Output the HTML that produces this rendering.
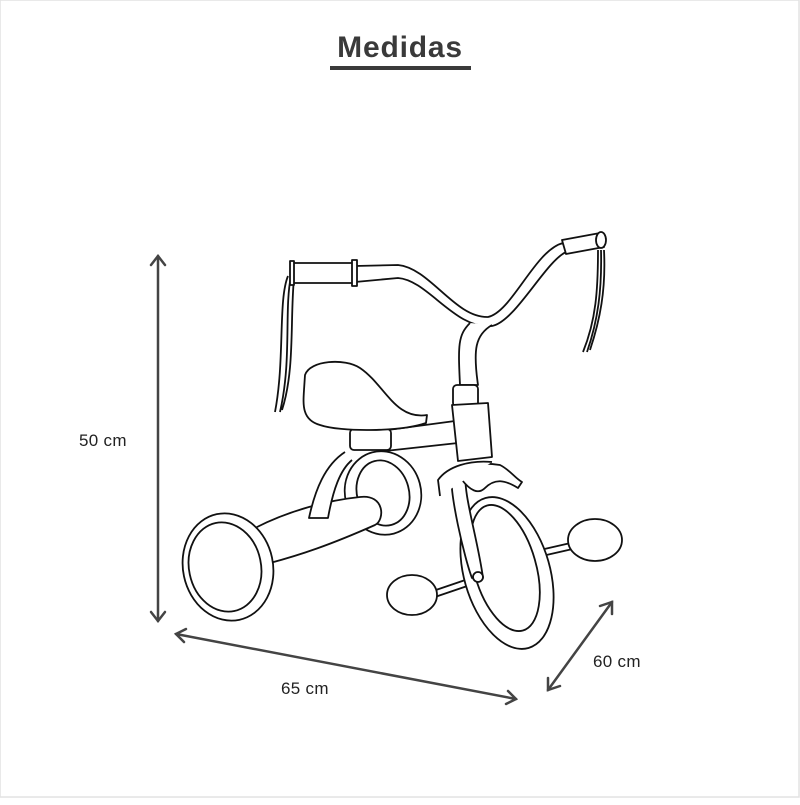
<!DOCTYPE html>
<html><head><meta charset="utf-8"><style>
html,body{margin:0;padding:0;background:#fff}
body{width:800px;height:800px;overflow:hidden;position:relative}
</style></head><body>
<svg width="800" height="800" viewBox="0 0 800 800" xmlns="http://www.w3.org/2000/svg">
<rect x="0" y="0" width="799" height="797" fill="#fff" stroke="#e2e2e2" stroke-width="1.5"/>
<text x="400" y="57" text-anchor="middle" font-family="Liberation Sans, sans-serif" font-weight="bold" font-size="30" letter-spacing="0.8" fill="#3a3a3a">Medidas</text>
<rect x="330" y="66" width="141" height="4" fill="#3a3a3a"/>
<g fill="none" stroke="#444" stroke-width="2.5" stroke-linecap="round">
<line x1="158" y1="256" x2="158" y2="621"/>
<polyline points="151,265 158,256 165,265"/>
<polyline points="151,612 158,621 165,612"/>
<line x1="176" y1="634" x2="516" y2="699"/>
<polyline points="186,629 176,634 184,642"/>
<polyline points="506,704 516,699 508,691"/>
<line x1="612" y1="602" x2="548" y2="690"/>
<polyline points="600,606 612,602 612,614"/>
<polyline points="548,678 548,690 560,686"/>
</g>
<g font-family="Liberation Sans, sans-serif" font-size="17" fill="#222" letter-spacing="0.3">
<text x="79" y="446">50 cm</text>
<text x="281" y="694">65 cm</text>
<text x="593" y="667">60 cm</text>
</g>
<g fill="#fff" stroke="#111" stroke-width="1.8" stroke-linejoin="round">
<path d="M288,276 C278,300 285,360 275,412 M291,276 C284,310 292,360 280,412 M294,278 C290,320 295,370 282,410" fill="none"/>
<path d="M598,250 C598,290 596,320 583,352 M601,250 C602,290 598,320 587,352 M604,250 C606,290 600,320 590,350" fill="none"/>
<path d="M355,266 L398,265 C430,268 455,318 488,317 C512,312 535,250 563,243 L566,252 C545,262 515,322 492,326 C455,330 428,280 398,278 L355,282 Z"/>
<path d="M470,323 C458,335 458,345 460,385 L478,385 C473,350 475,335 492,325"/>
<rect x="292" y="263" width="62" height="20"/>
<rect x="290" y="261" width="4" height="24"/>
<rect x="352" y="260" width="5" height="26"/>
<path d="M562,240 L600,233 L604,247 L566,254 Z"/>
<ellipse cx="601" cy="240" rx="5" ry="8"/>
<path d="M430,592 L480,575 L482,581 L432,598 Z"/>
<path d="M540,550 L575,542 L577,548 L542,556 Z"/>
<ellipse cx="412" cy="595" rx="25" ry="20"/>
<ellipse cx="595" cy="540" rx="27" ry="21"/>
<ellipse cx="507" cy="573" rx="43" ry="78" transform="rotate(-16 507 573)"/>
<ellipse cx="505" cy="568" rx="31" ry="65" transform="rotate(-16 505 568)"/>
<path d="M452,470 C448,490 465,560 472,578 L483,578 C478,540 462,490 466,472 Z"/>
<circle cx="478" cy="577" r="5"/>
<path d="M440,495 C445,470 470,460 500,465 C510,470 515,478 522,482 L518,488 C505,480 495,478 485,488 C478,495 470,490 462,480"/>
<path d="M440,496 L438,480 C448,466 470,460 492,462"/>
<ellipse cx="383" cy="493" rx="38" ry="42" transform="rotate(-15 383 493)"/>
<ellipse cx="383" cy="493" rx="26" ry="33" transform="rotate(-15 383 493)"/>
<path d="M255,528 C290,510 330,500 360,497 C385,494 385,520 375,525 C330,545 300,555 270,563 Z"/>
<path d="M345,452 C325,465 315,490 309,518 L328,518 C333,490 340,470 352,460"/>
<ellipse cx="228" cy="567" rx="45" ry="54" transform="rotate(-12 228 567)"/>
<ellipse cx="225" cy="567" rx="36" ry="45" transform="rotate(-12 225 567)"/>
<path d="M380,431 L455,421 L458,443 L385,451 Z"/>
<rect x="350" y="429" width="41" height="21" rx="4"/>
<path d="M305,375 C310,360 345,358 360,368 C385,385 395,420 427,415 L426,423 C400,432 340,432 320,425 C302,420 303,405 304,390 Z"/>
<rect x="453" y="385" width="25" height="22" rx="4"/>
<path d="M452,405 L488,403 L492,457 L458,461 Z"/>
</g>
</svg>
</body></html>
